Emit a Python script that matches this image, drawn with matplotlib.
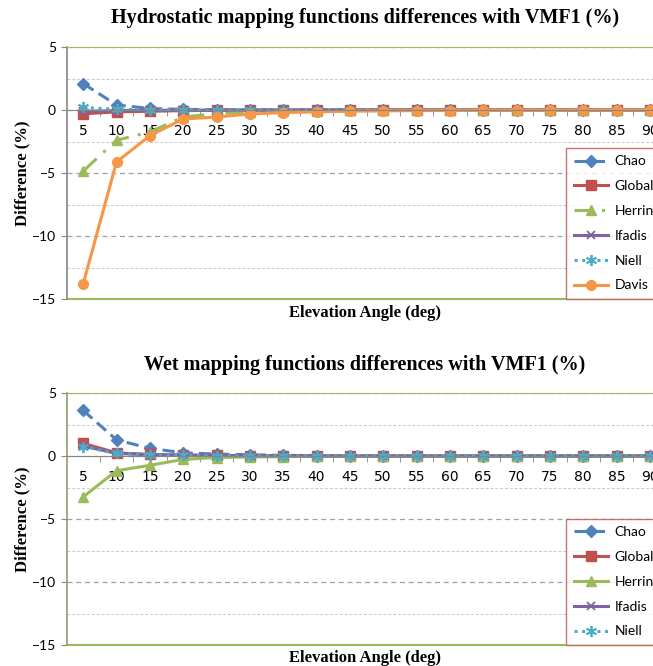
import numpy as np
import matplotlib.pyplot as plt
from matplotlib.ticker import MultipleLocator

# elevation angles (deg)
angles = [5, 10, 15, 20, 25, 30, 35, 40, 45, 50, 55, 60, 65, 70, 75, 80, 85, 90]

# hydrostatic differences with VMF1 (%)
hyd_chao = [2.1, 0.4, 0.12, 0.05, 0.02, 0.01, 0, 0, 0, 0, 0, 0, 0, 0, 0, 0, 0, 0]
hyd_global = [-0.3, -0.15, -0.1, -0.05, -0.03, -0.02, -0.01, 0, 0, 0, 0, 0, 0, 0, 0, 0, 0, 0]
hyd_herring = [-4.85, -2.4, -1.75, -0.55, -0.3, -0.15, -0.08, -0.05, -0.03, -0.02, -0.01, 0, 0, 0, 0, 0, 0, 0]
hyd_ifadis = [-0.1, -0.05, -0.03, -0.02, -0.01, 0, 0, 0, 0, 0, 0, 0, 0, 0, 0, 0, 0, 0]
hyd_niell = [0.2, 0.05, 0.02, 0.01, 0, 0, 0, 0, 0, 0, 0, 0, 0, 0, 0, 0, 0, 0]
hyd_davis = [-13.8, -4.13, -2.04, -0.71, -0.56, -0.32, -0.2, -0.15, -0.1, -0.07, -0.05, -0.04, -0.03, -0.02, -0.02, -0.01, -0.01, 0]

# wet differences with VMF1 (%)
wet_chao = [3.62, 1.28, 0.61, 0.25, 0.15, 0.1, 0.05, 0.03, 0.02, 0.01, 0, 0, 0, 0, 0, 0, 0, 0]
wet_global = [1.0, 0.25, 0.12, 0.08, 0.05, 0.03, 0.02, 0.01, 0, 0, 0, 0, 0, 0, 0, 0, 0, 0]
wet_herring = [-3.24, -1.17, -0.74, -0.27, -0.12, -0.08, -0.05, -0.03, -0.02, -0.01, 0, 0, 0, 0, 0, 0, 0, 0]
wet_ifadis = [0.8, 0.2, 0.1, 0.06, 0.04, 0.02, 0.01, 0, 0, 0, 0, 0, 0, 0, 0, 0, 0, 0]
wet_niell = [0.75, 0.2, 0.1, 0.05, 0.03, 0.02, 0.01, 0, 0, 0, 0, 0, 0, 0, 0, 0, 0, 0]

BLUE = "#4F81BD"
RED = "#C0504D"
GREEN = "#9BBB59"
PURPLE = "#8064A2"
TEAL = "#4BACC6"
ORANGE = "#F79646"
ASTER = (6, 2, 0)

W, H = 653, 666
fig = plt.figure(figsize=(W / 100, H / 100), dpi=100)
tick_font = "Lato"
serif = "Liberation Serif"


def setup_axes(ax, left_color, border_color, title, title_y, xlab_y):
    ax.set_xlim(2.5, 92.5)
    ax.set_ylim(-15, 5)
    ax.yaxis.set_major_locator(MultipleLocator(5))
    ax.yaxis.set_minor_locator(MultipleLocator(2.5))
    ax.set_xticks(angles)
    ax.set_xticks([a + 2.5 for a in angles[:-1]], minor=True)
    ax.tick_params(axis="x", which="major", length=0, pad=10, labelsize=10)
    ax.tick_params(axis="x", which="minor", length=4, direction="out", color="#868686")
    ax.tick_params(axis="y", which="major", length=4, labelsize=10, color="#868686")
    ax.tick_params(axis="y", which="minor", length=0)
    for lab in ax.get_xticklabels() + ax.get_yticklabels():
        lab.set_family(tick_font)
    ax.grid(axis="y", which="major", ls=(0, (4, 3)), color="#a0a0a0", lw=0.9)
    ax.grid(axis="y", which="minor", ls=(0, (3, 2)), color="#c8c8c8", lw=0.7)
    ax.spines["bottom"].set_position(("data", 0))
    ax.spines["bottom"].set_color("#868686")
    ax.spines["left"].set_color(left_color)
    ax.spines["left"].set_linewidth(1.2)
    ax.spines["top"].set_color(border_color)
    ax.spines["right"].set_visible(False)
    ax.axhline(-15, color=border_color, lw=1.5, clip_on=False)
    ax.set_ylabel("Difference (%)", family=serif, fontweight="bold", fontsize=12, labelpad=1)
    fig.text(365 / W, 1 - title_y / H, title, family=serif, fontweight="bold",
             fontsize=14.5, ha="center", va="center")
    fig.text(365 / W, 1 - xlab_y / H, "Elevation Angle (deg)", family=serif,
             fontweight="bold", fontsize=12, ha="center", va="center")


def add_legend(ax):
    leg = ax.legend(loc="lower left", bbox_to_anchor=(0.8325, 0.0), borderaxespad=0,
                    prop={"family": tick_font, "size": 10}, frameon=True, fancybox=False,
                    edgecolor=RED, handlelength=2.5, labelspacing=0.92, borderpad=0.55,
                    handletextpad=0.45)
    leg.get_frame().set_linewidth(1.0)
    return leg


ax1 = fig.add_axes([66.5 / W, (H - 299) / H, 600 / W, 252 / H])
setup_axes(ax1, "#868686", GREEN,
           "Hydrostatic mapping functions differences with VMF1 (%)", 18, 313)
ax1.plot(angles, hyd_chao, color=BLUE, ls=(0, (4, 2)), lw=2.2, marker="D", ms=6, label="Chao")
ax1.plot(angles, hyd_global, color=RED, lw=2.2, marker="s", ms=6.5, label="Global")
ax1.plot(angles, hyd_herring, color=GREEN, ls=(0, (6, 3, 1, 3)), lw=2.2, marker="^", ms=7, label="Herring")
ax1.plot(angles, hyd_ifadis, color=PURPLE, lw=2.2, marker="x", ms=6, mew=1.3, label="Ifadis")
ax1.plot(angles, hyd_niell, color=TEAL, ls=(0, (1, 1.5)), lw=2.2, marker=ASTER, ms=8, mew=1.3, label="Niell")
ax1.plot(angles, hyd_davis, color=ORANGE, lw=2.2, marker="o", ms=7, label="Davis")
add_legend(ax1)

ax2 = fig.add_axes([66.5 / W, (H - 645) / H, 600 / W, 252 / H])
setup_axes(ax2, "#9a9a6a", GREEN,
           "Wet mapping functions differences with VMF1 (%)", 365, 658)
ax2.spines["top"].set_linestyle((0, (3, 1)))
ax2.plot(angles, wet_chao, color=BLUE, ls=(0, (4, 2)), lw=2.2, marker="D", ms=6, label="Chao")
ax2.plot(angles, wet_global, color=RED, lw=2.2, marker="s", ms=6.5, label="Global")
ax2.plot(angles, wet_herring, color=GREEN, lw=2.2, marker="^", ms=7, label="Herring")
ax2.plot(angles, wet_ifadis, color=PURPLE, lw=2.2, marker="x", ms=6, mew=1.3, label="Ifadis")
ax2.plot(angles, wet_niell, color=TEAL, ls=(0, (1, 1.5)), lw=2.2, marker=ASTER, ms=8, mew=1.3, label="Niell")
add_legend(ax2)

fig.savefig("out.png", dpi=100)
